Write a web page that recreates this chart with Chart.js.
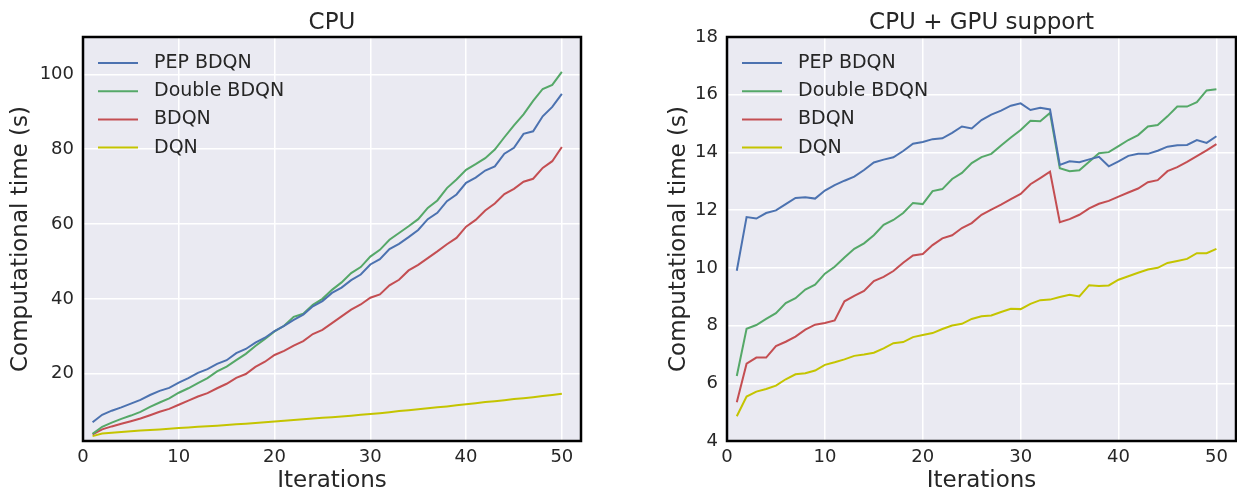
<!DOCTYPE html>
<html>
<head>
<meta charset="utf-8">
<script src="https://cdn.jsdelivr.net/npm/chart.js@4.4.1/dist/chart.umd.min.js"></script>
<style>
  body { margin: 0; background: #fff; }
  #wrap { position: relative; width: 1237px; height: 495px; }
  canvas { position: absolute; top: 0; }
  #cpu-chart { left: 0; }
  #gpu-chart { left: 618px; }
</style>
</head>
<body>
<div id="wrap">
  <canvas id="cpu-chart" width="618" height="495"></canvas>
  <canvas id="gpu-chart" width="619" height="495"></canvas>
</div>
<script>
const iterations = [1, 2, 3, 4, 5, 6, 7, 8, 9, 10, 11, 12, 13, 14, 15, 16, 17, 18, 19, 20,
  21, 22, 23, 24, 25, 26, 27, 28, 29, 30, 31, 32, 33, 34, 35, 36, 37, 38, 39, 40,
  41, 42, 43, 44, 45, 46, 47, 48, 49, 50];
const seriesNames = ["PEP BDQN", "Double BDQN", "BDQN", "DQN"];

// CPU
const cpuPep = [7.0, 9.0, 10.1, 11.0, 12.0, 13.0, 14.3, 15.4, 16.2, 17.6,
  18.8, 20.2, 21.2, 22.6, 23.6, 25.5, 26.6, 28.3, 29.6, 31.4,
  32.8, 34.4, 35.8, 38.0, 39.4, 41.6, 43.0, 45.0, 46.5, 49.2,
  50.6, 53.3, 54.7, 56.5, 58.4, 61.3, 63.0, 66.1, 67.9, 71.0,
  72.4, 74.3, 75.4, 78.8, 80.4, 84.1, 84.8, 88.8, 91.3, 94.8];
const cpuDouble = [3.9, 5.8, 6.9, 7.9, 8.8, 9.8, 11.1, 12.3, 13.4, 14.9,
  16.1, 17.5, 18.8, 20.6, 21.9, 23.6, 25.3, 27.4, 29.3, 31.3,
  32.8, 35.2, 36.0, 38.4, 40.0, 42.4, 44.4, 46.9, 48.5, 51.3,
  53.1, 55.8, 57.6, 59.4, 61.3, 64.3, 66.3, 69.6, 71.9, 74.5,
  76.0, 77.6, 79.9, 83.2, 86.4, 89.3, 92.9, 96.1, 97.2, 100.7];
const cpuBdqn = [3.8, 5.1, 5.9, 6.6, 7.3, 8.0, 8.9, 9.8, 10.6, 11.7,
  12.8, 13.9, 14.8, 16.1, 17.3, 18.9, 19.9, 21.8, 23.2, 25.0,
  26.1, 27.5, 28.7, 30.6, 31.7, 33.5, 35.3, 37.1, 38.5, 40.3,
  41.2, 43.6, 45.1, 47.6, 49.1, 50.9, 52.7, 54.6, 56.3, 59.3,
  61.1, 63.6, 65.5, 68.0, 69.4, 71.3, 72.1, 75.0, 76.8, 80.6];
const cpuDqn = [3.3, 4.0, 4.2, 4.4, 4.6, 4.8, 4.95, 5.1, 5.25, 5.45,
  5.6, 5.8, 5.95, 6.1, 6.3, 6.45, 6.6, 6.8, 7.0, 7.2,
  7.4, 7.6, 7.8, 8.0, 8.2, 8.35, 8.55, 8.75, 9.0, 9.2,
  9.45, 9.7, 10.0, 10.25, 10.5, 10.75, 11.0, 11.25, 11.55, 11.85,
  12.1, 12.4, 12.65, 12.9, 13.2, 13.45, 13.7, 14.0, 14.3, 14.65];

// CPU + GPU support
const gpuPep = [9.9, 11.76, 11.71, 11.9, 11.99, 12.21, 12.42, 12.45, 12.4, 12.68,
  12.87, 13.02, 13.16, 13.39, 13.65, 13.75, 13.83, 14.05, 14.3, 14.36,
  14.46, 14.49, 14.68, 14.9, 14.83, 15.12, 15.31, 15.45, 15.62, 15.7,
  15.47, 15.55, 15.49, 13.57, 13.69, 13.66, 13.76, 13.85, 13.52, 13.69,
  13.88, 13.95, 13.95, 14.06, 14.2, 14.25, 14.26, 14.43, 14.33, 14.56];
const gpuDouble = [6.25, 7.89, 8.02, 8.23, 8.43, 8.78, 8.95, 9.25, 9.42, 9.8,
  10.04, 10.36, 10.66, 10.85, 11.13, 11.49, 11.66, 11.9, 12.25, 12.21,
  12.66, 12.73, 13.08, 13.29, 13.63, 13.84, 13.95, 14.24, 14.52, 14.78,
  15.1, 15.08, 15.37, 13.45, 13.35, 13.38, 13.68, 13.97, 14.01, 14.22,
  14.43, 14.6, 14.9, 14.95, 15.25, 15.59, 15.59, 15.74, 16.15, 16.19];
const gpuBdqn = [5.34, 6.68, 6.89, 6.89, 7.29, 7.44, 7.62, 7.86, 8.03, 8.09,
  8.18, 8.84, 9.03, 9.2, 9.54, 9.69, 9.89, 10.18, 10.43, 10.48,
  10.79, 11.02, 11.13, 11.38, 11.55, 11.84, 12.02, 12.19, 12.38, 12.56,
  12.9, 13.11, 13.33, 11.58, 11.69, 11.84, 12.06, 12.22, 12.32, 12.47,
  12.61, 12.75, 12.97, 13.04, 13.35, 13.49, 13.67, 13.87, 14.07, 14.29];
const gpuDqn = [4.86, 5.54, 5.71, 5.8, 5.92, 6.14, 6.31, 6.35, 6.44, 6.64,
  6.73, 6.83, 6.95, 7.0, 7.06, 7.21, 7.39, 7.43, 7.6, 7.67,
  7.74, 7.88, 8.0, 8.06, 8.23, 8.32, 8.35, 8.47, 8.58, 8.57,
  8.75, 8.88, 8.9, 8.99, 9.07, 9.01, 9.4, 9.37, 9.39, 9.59,
  9.71, 9.83, 9.94, 10.0, 10.17, 10.24, 10.31, 10.51, 10.51, 10.66];

const xTicks = [0, 10, 20, 30, 40, 50];
const cpuYTicks = [20, 40, 60, 80, 100];
const gpuYTicks = [4, 6, 8, 10, 12, 14, 16, 18];

const colors = ["#4c72b0", "#55a868", "#c44e52", "#c4c400"];
const textColor = "#262626";
const fontFamily = '"DejaVu Sans", sans-serif';

const plotBackground = {
  id: "plotBackground",
  beforeDraw(chart) {
    const { ctx, chartArea: a } = chart;
    ctx.save();
    ctx.fillStyle = "#eaeaf2";
    ctx.fillRect(a.left, a.top, a.right - a.left, a.bottom - a.top);
    ctx.restore();
  },
  afterDatasetsDraw(chart) {
    const { ctx, chartArea: a } = chart;
    ctx.save();
    ctx.strokeStyle = "#000";
    ctx.lineWidth = 2.5;
    ctx.strokeRect(a.left, a.top, a.right - a.left, a.bottom - a.top);
    ctx.restore();
  },
};

// matplotlib-like legend in the upper left corner of the axes
const insideLegend = {
  id: "insideLegend",
  afterDraw(chart) {
    const { ctx, chartArea: a } = chart;
    ctx.save();
    ctx.font = "19px " + fontFamily;
    ctx.textBaseline = "middle";
    chart.data.datasets.forEach((ds, i) => {
      const y = a.top + 26 + i * 28.2;
      ctx.strokeStyle = ds.borderColor;
      ctx.lineWidth = 2;
      ctx.beginPath();
      ctx.moveTo(a.left + 15, y);
      ctx.lineTo(a.left + 55, y);
      ctx.stroke();
      ctx.fillStyle = textColor;
      ctx.fillText(ds.label, a.left + 71, y);
    });
    ctx.restore();
  },
};

function makeChart(canvasId, title, series, yMin, yMax, yTicks, yAxisWidth, yTitlePad, padRight) {
  const datasets = series.map((values, i) => ({
    label: seriesNames[i],
    data: iterations.map((x, j) => ({ x, y: values[j] })),
    borderColor: colors[i],
    borderWidth: 2,
    pointRadius: 0,
    tension: 0,
  }));

  return new Chart(document.getElementById(canvasId), {
    type: "line",
    data: { datasets },
    plugins: [plotBackground, insideLegend],
    options: {
      responsive: false,
      animation: false,
      layout: { padding: { left: 0, right: padRight, top: 0, bottom: 0 } },
      plugins: {
        legend: { display: false },
        tooltip: { enabled: false },
        title: {
          display: true,
          text: title,
          fullSize: false,
          color: textColor,
          font: { family: fontFamily, size: 23, weight: "normal", lineHeight: 1.2 },
          padding: { top: 9.4, bottom: 0 },
        },
      },
      scales: {
        x: {
          type: "linear",
          min: 0,
          max: 52,
          afterBuildTicks: (scale) => { scale.ticks = xTicks.map((v) => ({ value: v })); },
          afterFit: (scale) => { scale.height = 54; },
          grid: { color: "#ffffff", lineWidth: 1.5, drawTicks: false },
          border: { display: false },
          ticks: { color: textColor, padding: 6, font: { family: fontFamily, size: 18 } },
          title: {
            display: true,
            text: "Iterations",
            color: textColor,
            font: { family: fontFamily, size: 23, lineHeight: 1.2 },
            padding: { top: 0, bottom: 0 },
          },
        },
        y: {
          type: "linear",
          min: yMin,
          max: yMax,
          afterBuildTicks: (scale) => { scale.ticks = yTicks.map((v) => ({ value: v })); },
          afterFit: (scale) => { scale.width = yAxisWidth; },
          grid: { color: "#ffffff", lineWidth: 1.5, drawTicks: false },
          border: { display: false },
          ticks: { color: textColor, padding: 9, font: { family: fontFamily, size: 18 } },
          title: {
            display: true,
            text: "Computational time (s)",
            color: textColor,
            font: { family: fontFamily, size: 23, lineHeight: 1.2 },
            padding: { top: yTitlePad, bottom: 0 },
          },
        },
      },
    },
  });
}

makeChart("cpu-chart", "CPU", [cpuPep, cpuDouble, cpuBdqn, cpuDqn], 2, 110, cpuYTicks, 83, 7, 37);
makeChart("gpu-chart", "CPU + GPU support", [gpuPep, gpuDouble, gpuBdqn, gpuDqn], 4, 18, gpuYTicks, 109, 47, 1);
</script>
</body>
</html>
